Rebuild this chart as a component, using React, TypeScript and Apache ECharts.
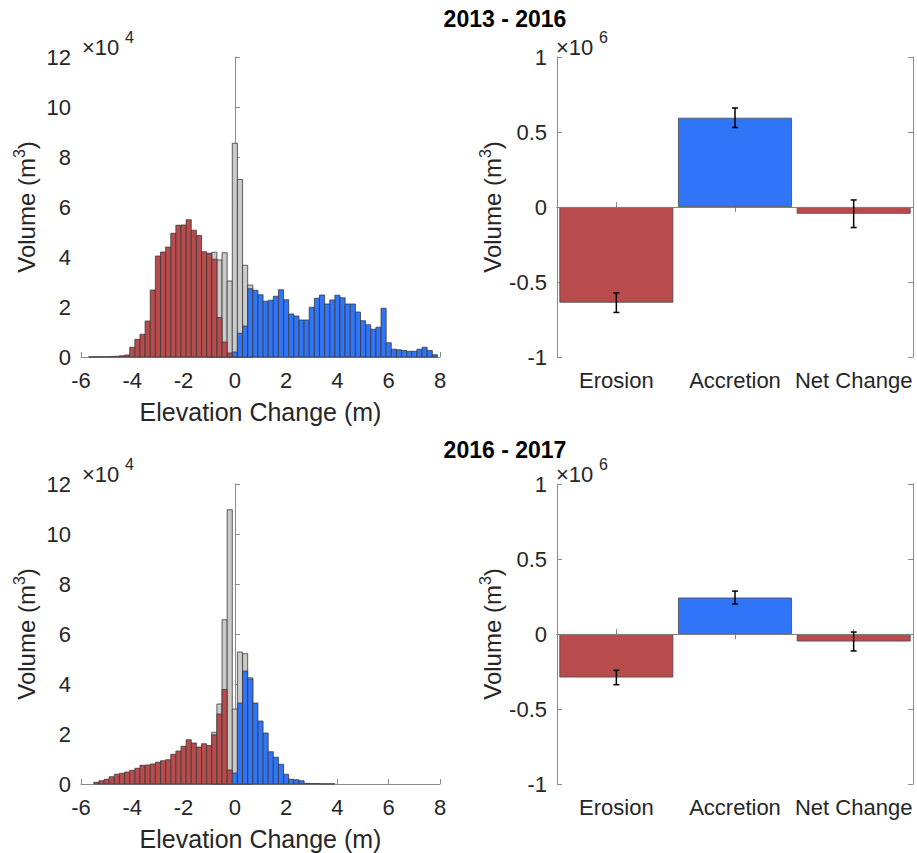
import React, { useEffect, useRef } from 'react';
import * as echarts from 'echarts';

const BIN_WIDTH = 0.2;

// ---- 2013 - 2016 histogram (x 10^4 m^3) ----
const eroCenters1 = [-5.6, -5.4, -5.2, -5.0, -4.8, -4.6, -4.4, -4.2, -4.0, -3.8, -3.6, -3.4, -3.2, -3.0, -2.8, -2.6, -2.4, -2.2, -2.0, -1.8, -1.6, -1.4, -1.2, -1.0, -0.8, -0.6, -0.4, -0.2];
const eroValues1 = [0.01, 0.01, 0.01, 0.01, 0.02, 0.03, 0.05, 0.08, 0.39, 0.71, 0.91, 1.44, 2.68, 4.04, 4.2, 4.4, 4.95, 5.27, 5.28, 5.49, 5.07, 4.86, 4.21, 4.13, 3.91, 1.58, 0.6, 0.16];
const accCenters1 = [0, 0.2, 0.4, 0.6, 0.8, 1.0, 1.2, 1.4, 1.6, 1.8, 2.0, 2.2, 2.4, 2.6, 2.8, 3.0, 3.2, 3.4, 3.6, 3.8, 4.0, 4.2, 4.4, 4.6, 4.8, 5.0, 5.2, 5.4, 5.6, 5.8, 6.0, 6.2, 6.4, 6.6, 6.8, 7.0, 7.2, 7.4, 7.6, 7.8];
const accValues1 = [0.2, 0.95, 1.24, 2.73, 2.67, 2.49, 2.23, 2.27, 2.43, 2.69, 2.29, 1.72, 1.64, 1.48, 1.48, 1.99, 2.35, 2.48, 2.12, 2.28, 2.47, 2.37, 2.12, 2.12, 1.8, 1.45, 1.29, 1.11, 1.19, 1.95, 0.57, 0.31, 0.29, 0.26, 0.23, 0.23, 0.31, 0.39, 0.26, 0.09];
const allCenters1 = [-1.0, -0.8, -0.6, -0.4, -0.2, 0, 0.2, 0.4, 0.6];
const allValues1 = [4.15, 4.19, 3.88, 4.17, 3.04, 8.55, 7.1, 3.67, 2.88];

// ---- 2016 - 2017 histogram (x 10^4 m^3) ----
const eroCenters2 = [-5.4, -5.2, -5.0, -4.8, -4.6, -4.4, -4.2, -4.0, -3.8, -3.6, -3.4, -3.2, -3.0, -2.8, -2.6, -2.4, -2.2, -2.0, -1.8, -1.6, -1.4, -1.2, -1.0, -0.8, -0.6, -0.4, -0.2];
const eroValues2 = [0.07, 0.13, 0.19, 0.29, 0.39, 0.43, 0.48, 0.55, 0.63, 0.75, 0.76, 0.8, 0.87, 0.93, 0.97, 1.19, 1.32, 1.51, 1.77, 1.64, 1.48, 1.61, 1.54, 1.97, 2.8, 3.78, 0.56];
const accCenters2 = [0, 0.2, 0.4, 0.6, 0.8, 1.0, 1.2, 1.4, 1.6, 1.8, 2.0, 2.2, 2.4, 2.6, 2.8, 3.0, 3.2, 3.4, 3.6, 3.8];
const accValues2 = [0.44, 3.24, 4.52, 4.2, 3.24, 2.52, 2.04, 1.29, 1.07, 0.79, 0.39, 0.19, 0.17, 0.13, 0.03, 0.02, 0.02, 0.01, 0.01, 0.01];
const allCenters2 = [-0.8, -0.6, -0.4, -0.2, 0, 0.2, 0.4, 0.6];
const allValues2 = [2.07, 3.2, 6.57, 10.97, 3.0, 5.28, 5.21, 4.25];

// ---- Volume bars (x 10^6 m^3) ----
const categories = ['Erosion', 'Accretion', 'Net Change'];
const volumes1 = [-0.638, 0.595, -0.045];
const errors1 = [0.065, 0.065, 0.092];
const volumes2 = [-0.29, 0.243, -0.05];
const errors2 = [0.048, 0.043, 0.063];

const histTicks = { min: -6, max: 8, interval: 2 };
const countTicks = { min: 0, max: 12, interval: 2 };
const volTicks = { min: -1, max: 1, interval: 0.5 };

const titles = ['2013 - 2016', '2016 - 2017'];

const RED = '#BA4B4D';
const BLUE = '#3074F8';
const GRAY = '#CACACA';
const EDGE = '#3a3a3a';
const AXIS = '#8a8a8a';
const TXT = '#262626';
const FONT = '"Liberation Sans", Arial, Helvetica, sans-serif';
const TICK_SIZE = 22;
const LABEL_SIZE = 24;
const XLABEL_SIZE = 25;

const G = [
  { left: 81, top: 57, width: 359, height: 300 },
  { left: 557, top: 57, width: 356, height: 300 },
  { left: 81, top: 484, width: 359, height: 300 },
  { left: 557, top: 484, width: 356, height: 300 },
];

const volName = '{a|Volume (m}{s|3}{a|)}';
const volNameStyle = {
  color: TXT,
  rich: {
    a: { fontSize: LABEL_SIZE, fontFamily: FONT, color: TXT, lineHeight: 30 },
    s: { fontSize: 16, fontFamily: FONT, color: TXT, verticalAlign: 'top', lineHeight: 16 },
  },
};

function histSeries(centers: number[], values: number[], fill: string, xi: number, yi: number, z: number) {
  return {
    type: 'custom',
    xAxisIndex: xi,
    yAxisIndex: yi,
    z,
    silent: true,
    encode: { x: 0, y: 1 },
    data: centers.map((c, i) => [c, values[i]]),
    renderItem: (params: any, api: any) => {
      const c = api.value(0);
      const v = api.value(1);
      const p0 = api.coord([c - BIN_WIDTH / 2, v]);
      const p1 = api.coord([c + BIN_WIDTH / 2, 0]);
      return {
        type: 'rect',
        shape: { x: p0[0], y: p0[1], width: p1[0] - p0[0], height: p1[1] - p0[1] },
        style: { fill, stroke: EDGE, lineWidth: 0.8 },
      };
    },
  };
}

function errSeries(vals: number[], errs: number[], xi: number, yi: number) {
  return {
    type: 'custom',
    xAxisIndex: xi,
    yAxisIndex: yi,
    z: 10,
    silent: true,
    data: vals.map((v, i) => [i, v, errs[i]]),
    renderItem: (params: any, api: any) => {
      const i = api.value(0);
      const v = api.value(1);
      const e = api.value(2);
      const top = api.coord([i, v + e]);
      const bot = api.coord([i, v - e]);
      const hw = 3;
      const ls = { stroke: '#000', lineWidth: 1.5 };
      return {
        type: 'group',
        children: [
          { type: 'line', shape: { x1: top[0], y1: top[1], x2: bot[0], y2: bot[1] }, style: ls },
          { type: 'line', shape: { x1: top[0] - hw, y1: top[1], x2: top[0] + hw, y2: top[1] }, style: ls },
          { type: 'line', shape: { x1: bot[0] - hw, y1: bot[1], x2: bot[0] + hw, y2: bot[1] }, style: ls },
        ],
      };
    },
  };
}

function barSeries(vals: number[], xi: number, yi: number) {
  return {
    type: 'bar',
    xAxisIndex: xi,
    yAxisIndex: yi,
    barWidth: '96%',
    silent: true,
    data: vals.map((v) => ({ value: v, itemStyle: { color: v < 0 ? RED : BLUE, borderColor: '#4a4a4a', borderWidth: 0.8 } })),
    markLine: {
      silent: true,
      symbol: ['none', 'none'],
      label: { show: false },
      lineStyle: { color: '#808080', type: 'solid', width: 1 },
      data: [{ yAxis: 0 }],
    },
  };
}

const tickLabel = { color: TXT, fontSize: TICK_SIZE, fontFamily: FONT };
const axisLine = { show: true, lineStyle: { color: AXIS, width: 1 } };
const axisTick = { show: true, inside: true, length: 5, lineStyle: { color: AXIS } };

function histX(gi: number) {
  return {
    type: 'value', gridIndex: gi, ...histTicks, position: 'bottom',
    axisLine, axisTick, splitLine: { show: false },
    axisLabel: { ...tickLabel, margin: 12 },
    name: 'Elevation Change (m)', nameLocation: 'middle', nameGap: 42,
    nameTextStyle: { color: TXT, fontSize: XLABEL_SIZE, fontFamily: FONT },
  };
}
function histY(gi: number) {
  return {
    type: 'value', gridIndex: gi, ...countTicks,
    axisLine, axisTick, splitLine: { show: false },
    axisLabel: { ...tickLabel, margin: 10 },
    name: volName, nameLocation: 'middle', nameGap: 40, nameRotate: 90,
    nameTextStyle: volNameStyle,
  };
}
function volX(gi: number) {
  return {
    type: 'category', gridIndex: gi, data: categories, position: 'bottom',
    axisLine, axisTick: { ...axisTick, alignWithLabel: true }, splitLine: { show: false },
    axisLabel: { ...tickLabel, margin: 12, interval: 0 },
  };
}
function volXTop(gi: number) {
  return {
    type: 'category', gridIndex: gi, data: categories, position: 'top',
    axisLine, axisTick: { ...axisTick, alignWithLabel: true, interval: 0 }, splitLine: { show: false },
    axisLabel: { show: false },
  };
}
function volY(gi: number) {
  return {
    type: 'value', gridIndex: gi, ...volTicks, position: 'left',
    axisLine, axisTick, splitLine: { show: false },
    axisLabel: { ...tickLabel, margin: 10 },
    name: volName, nameLocation: 'middle', nameGap: 50, nameRotate: 90,
    nameTextStyle: volNameStyle,
  };
}
function volYRight(gi: number) {
  return {
    type: 'value', gridIndex: gi, ...volTicks, position: 'right',
    axisLine, axisTick, splitLine: { show: false },
    axisLabel: { show: false },
  };
}

function expText(x: number, y: number, exp: string) {
  return [
    { type: 'text', x, y, style: { text: '×10', fill: TXT, font: `22px ${FONT}`, verticalAlign: 'middle', align: 'left' } },
    { type: 'text', x: x + 43, y: y - 10, style: { text: exp, fill: TXT, font: `16px ${FONT}`, verticalAlign: 'middle', align: 'left' } },
  ];
}

export default function App() {
  const ref = useRef<HTMLDivElement>(null);
  useEffect(() => {
    if (!ref.current) return;
    const chart = echarts.init(ref.current, undefined, { renderer: 'svg' });
    const option: any = {
      animation: false,
      backgroundColor: '#ffffff',
      textStyle: { fontFamily: FONT },
      grid: G.map((g) => ({ ...g, containLabel: false })),
      xAxis: [histX(0), volX(1), volXTop(1), histX(2), volX(3), volXTop(3)],
      yAxis: [histY(0), volY(1), volYRight(1), histY(2), volY(3), volYRight(3)],
      series: [
        histSeries(allCenters1, allValues1, GRAY, 0, 0, 2),
        histSeries(eroCenters1, eroValues1, RED, 0, 0, 3),
        histSeries(accCenters1, accValues1, BLUE, 0, 0, 3),
        barSeries(volumes1, 1, 1),
        errSeries(volumes1, errors1, 1, 1),
        histSeries(allCenters2, allValues2, GRAY, 3, 3, 2),
        histSeries(eroCenters2, eroValues2, RED, 3, 3, 3),
        histSeries(accCenters2, accValues2, BLUE, 3, 3, 3),
        barSeries(volumes2, 4, 4),
        errSeries(volumes2, errors2, 4, 4),
      ],
      graphic: [
        { type: 'text', x: 505, y: 19, style: { text: titles[0], fill: '#000', font: `bold 23px ${FONT}`, align: 'center', verticalAlign: 'middle' } },
        { type: 'text', x: 505, y: 450, style: { text: titles[1], fill: '#000', font: `bold 23px ${FONT}`, align: 'center', verticalAlign: 'middle' } },
        ...expText(82, 47, '4'),
        ...expText(556, 47, '6'),
        ...expText(82, 474, '4'),
        ...expText(556, 474, '6'),
      ],
    };
    chart.setOption(option);
    return () => chart.dispose();
  }, []);
  return <div ref={ref} style={{ position: 'fixed', left: 0, top: 0, width: 917, height: 853, background: '#fff' }} />;
}
